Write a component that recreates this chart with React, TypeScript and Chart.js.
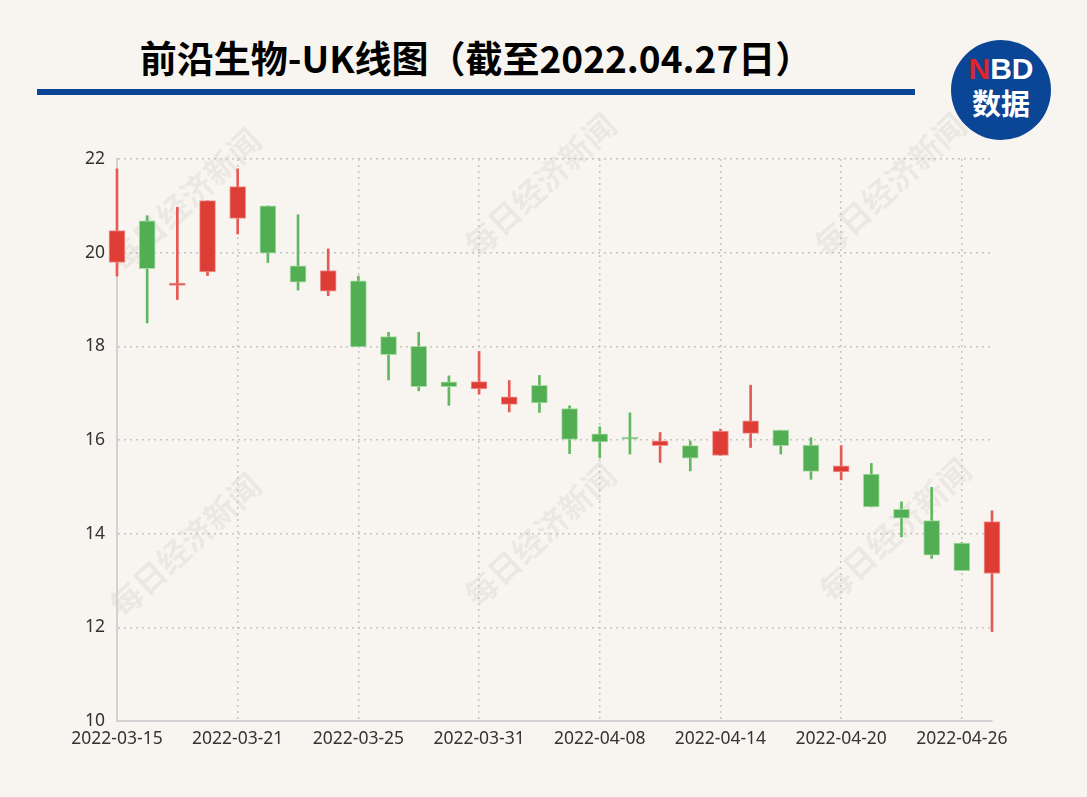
import React, { useEffect, useRef } from "react";
import { Chart, registerables } from "chart.js";

Chart.register(...registerables);

const dates = [
  "2022-03-15", "2022-03-16", "2022-03-17", "2022-03-18", "2022-03-21",
  "2022-03-22", "2022-03-23", "2022-03-24", "2022-03-25", "2022-03-28",
  "2022-03-29", "2022-03-30", "2022-03-31", "2022-04-01", "2022-04-06",
  "2022-04-07", "2022-04-08", "2022-04-11", "2022-04-12", "2022-04-13",
  "2022-04-14", "2022-04-15", "2022-04-18", "2022-04-19", "2022-04-20",
  "2022-04-21", "2022-04-22", "2022-04-25", "2022-04-26", "2022-04-27",
];
const opens = [19.79, 20.68, 19.3, 19.59, 20.73, 21.0, 19.72, 19.18, 19.4, 18.21, 18.0, 17.24, 17.09, 16.76, 17.17, 16.67, 16.13, 16.06, 15.88, 15.88, 15.67, 16.14, 16.21, 15.89, 15.32, 15.27, 14.52, 14.28, 13.8, 13.15];
const closes = [20.47, 19.66, 19.35, 21.11, 21.41, 19.99, 19.37, 19.62, 17.99, 17.82, 17.14, 17.14, 17.25, 16.92, 16.79, 16.01, 15.96, 16.02, 15.98, 15.61, 16.19, 16.41, 15.88, 15.33, 15.45, 14.57, 14.33, 13.54, 13.21, 14.26];
const highs = [21.79, 20.79, 20.97, 21.11, 21.79, 21.0, 20.81, 20.08, 19.5, 18.3, 18.3, 17.37, 17.89, 17.27, 17.38, 16.73, 16.28, 16.58, 16.16, 15.98, 16.23, 17.17, 16.21, 16.05, 15.88, 15.5, 14.68, 14.99, 13.81, 14.49];
const lows = [19.5, 18.5, 19.0, 19.51, 20.4, 19.79, 19.2, 19.08, 17.99, 17.28, 17.05, 16.74, 16.98, 16.6, 16.59, 15.71, 15.62, 15.7, 15.52, 15.34, 15.67, 15.84, 15.7, 15.16, 15.15, 14.57, 13.93, 13.47, 13.21, 11.91];

const yMin = 10;
const yMax = 22;
const yStep = 2;
const labelEvery = 4;

const watermarkText = "每日经济新闻";
const titleText = "前沿生物-UK线图（截至2022.04.27日）";

const RED = "#dd3d34";
const GREEN = "#52ae52";
const BG = "#f8f5f0";

const watermarkPositions = [
  [185, 200], [540, 185], [890, 185],
  [185, 545], [540, 535], [895, 530],
];

const watermarkPlugin = {
  id: "watermark",
  beforeDraw(chart: any) {
    const ctx = chart.ctx;
    ctx.save();
    ctx.font = "bold 32px 'Noto Sans CJK SC'";
    ctx.fillStyle = "rgba(0,0,0,0.05)";
    ctx.textAlign = "center";
    ctx.textBaseline = "middle";
    for (const [x, y] of watermarkPositions) {
      ctx.save();
      ctx.translate(x, y);
      ctx.rotate(-Math.PI / 4.2);
      ctx.fillText(watermarkText, 0, 0);
      ctx.restore();
    }
    ctx.restore();
  },
};

export default function App() {
  const ref = useRef<HTMLCanvasElement | null>(null);

  useEffect(() => {
    if (!ref.current) return;
    const up = opens.map((o, i) => closes[i] >= o);
    const chart = new Chart(ref.current, {
      type: "bar",
      data: {
        labels: dates,
        datasets: [
          {
            label: "body",
            data: opens.map((o, i) => [o, closes[i]]) as any,
            backgroundColor: up.map((u) => (u ? RED : GREEN)),
            borderColor: up.map((u) => (u ? "rgba(240,140,135,0.9)" : "rgba(160,215,160,0.9)")),
            borderWidth: 1,
            borderSkipped: false,
            barThickness: 16,
            grouped: false,
            clip: false as any,
          },
          {
            label: "wick",
            data: lows.map((l, i) => [l, highs[i]]) as any,
            backgroundColor: up.map((u) => (u ? "#e45a55" : "#62b862")),
            borderWidth: 0,
            barThickness: 2,
            grouped: false,
            clip: false as any,
          },
        ],
      },
      options: {
        animation: false,
        responsive: false,
        maintainAspectRatio: false,
        layout: { padding: { left: 0, top: 159, right: 95, bottom: 0 } },
        plugins: {
          legend: { display: false },
          tooltip: { enabled: false },
        },
        scales: {
          x: {
            offset: false,
            grid: {
              offset: false,
              color: (c: any) => (c.index % labelEvery === 0 && c.index !== 0 ? "#c4c4c4" : "rgba(0,0,0,0)"),
              lineWidth: 1.5,
              drawTicks: false,
            },
            border: { display: true, color: "#d2d2d2", width: 2, dash: [2, 4] },
            ticks: {
              autoSkip: false,
              maxRotation: 0,
              padding: 8,
              color: "#333",
              font: { family: "'Noto Sans'", size: 17.5 },
              callback: (_v: any, i: number) => (i % labelEvery === 0 ? dates[i] : ""),
            },
            afterFit: (s: any) => {
              s.height = 76;
            },
          },
          y: {
            min: yMin,
            max: yMax,
            grid: {
              color: (c: any) => (c.tick && c.tick.value === yMin ? "rgba(0,0,0,0)" : "#c4c4c4"),
              lineWidth: 1.5,
              drawTicks: false,
            },
            border: { display: true, color: "#d2d2d2", width: 2, dash: [2, 4] },
            ticks: {
              stepSize: yStep,
              padding: 12,
              color: "#333",
              font: { family: "'Noto Sans'", size: 17.5 },
            },
            afterFit: (s: any) => {
              s.width = 117;
            },
          },
        },
      },
      plugins: [watermarkPlugin],
    });
    return () => chart.destroy();
  }, []);

  return (
    <div
      style={{
        position: "absolute",
        left: 0,
        top: 0,
        width: 1087,
        height: 797,
        background: BG,
        overflow: "hidden",
      }}
    >
      <div
        style={{
          position: "absolute",
          left: 37,
          top: 34,
          width: 878,
          textAlign: "center",
          fontFamily: "'Noto Sans CJK SC'",
          fontWeight: 700,
          fontSize: 37,
          lineHeight: "46px",
          color: "#000",
          whiteSpace: "nowrap",
        }}
      >
        {titleText}
      </div>
      <div
        style={{
          position: "absolute",
          left: 37,
          top: 89,
          width: 878,
          height: 6,
          background: "#0b4596",
        }}
      />
      <div
        style={{
          position: "absolute",
          left: 951,
          top: 40,
          width: 100,
          height: 100,
          borderRadius: "50%",
          background: "#0b4596",
          color: "#fff",
          fontFamily: "'Noto Sans CJK SC'",
          fontWeight: 700,
          textAlign: "center",
        }}
      >
        <div style={{ position: "absolute", top: 12, width: 100, fontSize: 30, lineHeight: "34px", fontFamily: "Arial, 'Liberation Sans'" }}>
          <span style={{ color: "#e3232c" }}>N</span>BD
        </div>
        <div style={{ position: "absolute", top: 44, width: 100, fontSize: 29, lineHeight: "36px" }}>数据</div>
      </div>
      <canvas
        ref={ref}
        width={1087}
        height={797}
        style={{ position: "absolute", left: 0, top: 0, width: 1087, height: 797 }}
      />
    </div>
  );
}
